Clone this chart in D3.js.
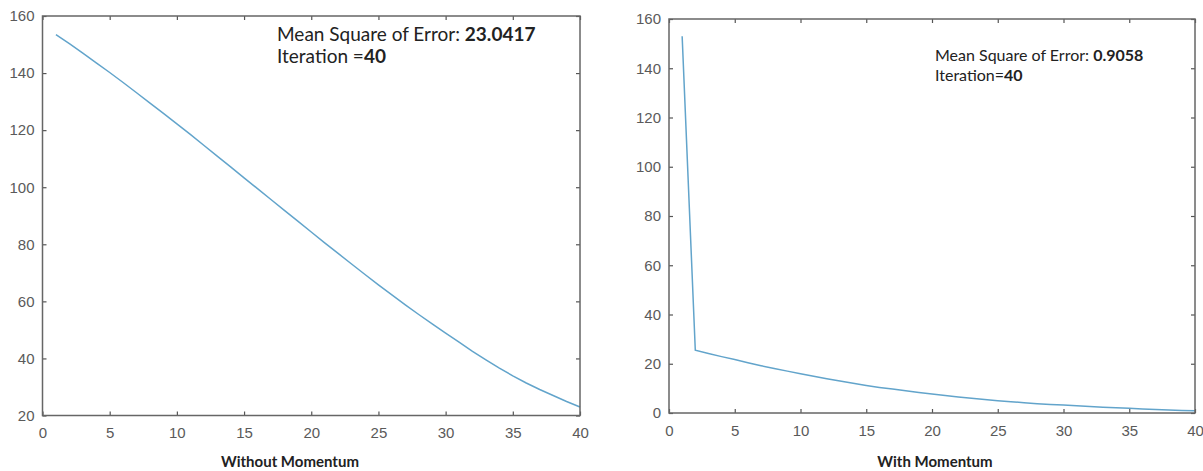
<!DOCTYPE html>
<html>
<head>
<meta charset="utf-8">
<script src="https://cdn.jsdelivr.net/npm/d3@7"></script>
<style>
  body { margin: 0; background: #fff; }
  svg text { fill: #4d4d4d; }
</style>
</head>
<body>
<script>
// iterations 1..40
var iterations = d3.range(1, 41);

// error without momentum
var errNoMomentum = [153.5, 150.3, 147.0, 143.6, 140.2, 136.7, 133.1, 129.5, 125.9, 122.2,
	118.5, 114.7, 110.9, 107.1, 103.3, 99.5, 95.7, 91.9, 88.1, 84.3,
	80.5, 76.8, 73.1, 69.4, 65.8, 62.3, 58.8, 55.4, 52.1, 48.9,
	45.7, 42.5, 39.5, 36.6, 33.9, 31.4, 29.1, 27.0, 24.9, 23.0];

// error with momentum
var errMomentum = [153, 25.5, 24.2, 22.9, 21.7, 20.4, 19.2, 18.1, 17.0, 15.9,
	14.9, 13.9, 13.0, 12.1, 11.2, 10.4, 9.7, 9.0, 8.3, 7.7,
	7.1, 6.5, 6.0, 5.5, 5.0, 4.6, 4.2, 3.8, 3.5, 3.2,
	2.9, 2.6, 2.3, 2.1, 1.9, 1.6, 1.4, 1.2, 1.0, 0.9];

var xTicks = [0, 5, 10, 15, 20, 25, 30, 35, 40];
var yTicksLeft = [20, 40, 60, 80, 100, 120, 140, 160];
var yTicksRight = [0, 20, 40, 60, 80, 100, 120, 140, 160];

var svg = d3.select("body").append("svg")
	.attr("width", 1203)
	.attr("height", 471);

// draw one matlab style panel
function drawPanel(p) {
	var x = d3.scaleLinear().domain([0, 40]).range([p.left, p.right]);
	var y = d3.scaleLinear().domain(p.yDomain).range([p.bottom, p.top]);
	var g = svg.append("g");

	var line = d3.line()
		.x(function(d, i) { return x(iterations[i]); })
		.y(function(d) { return y(d); });

	g.append("path")
		.datum(p.values)
		.attr("d", line)
		.attr("fill", "none")
		.attr("stroke", "#62a4cb")
		.attr("stroke-width", 1.5);

	var fontAxis = "Liberation Sans, Arial, sans-serif";

	var bottom = g.append("g")
		.attr("transform", "translate(0," + p.bottom + ")")
		.call(d3.axisBottom(x).tickValues(xTicks).tickSize(-4).tickPadding(12));
	var left = g.append("g")
		.attr("transform", "translate(" + p.left + ",0)")
		.call(d3.axisLeft(y).tickValues(p.yTicks).tickSize(-4).tickPadding(8));
	var top = g.append("g")
		.attr("transform", "translate(0," + p.top + ")")
		.call(d3.axisTop(x).tickValues(xTicks).tickSize(-4).tickFormat(""));
	var right = g.append("g")
		.attr("transform", "translate(" + p.right + ",0)")
		.call(d3.axisRight(y).tickValues(p.yTicks).tickSize(-4).tickFormat(""));

	[bottom, left, top, right].forEach(function(a) {
		a.select(".domain").remove();
		a.selectAll("line").attr("stroke", "#555").attr("stroke-width", 1.2);
		a.selectAll("text")
			.attr("font-family", fontAxis)
			.attr("font-size", 15)
			.style("fill", "#5a5a5a");
	});

	g.append("rect")
		.attr("x", p.left)
		.attr("y", p.top)
		.attr("width", p.right - p.left)
		.attr("height", p.bottom - p.top)
		.attr("fill", "none")
		.attr("stroke", "#666")
		.attr("stroke-width", 1.5);

	// annotation
	var note = g.append("text")
		.attr("font-family", "Lato, sans-serif")
		.attr("font-size", p.noteSize)
		.style("fill", "#222");
	note.append("tspan").attr("x", p.noteX).attr("y", p.noteY).text("Mean Square of Error: ");
	note.append("tspan").attr("font-weight", "bold").text(p.mse);
	var note2 = g.append("text")
		.attr("font-family", "Lato, sans-serif")
		.attr("font-size", p.noteSize)
		.style("fill", "#222");
	note2.append("tspan").attr("x", p.noteX).attr("y", p.noteY + p.noteGap).text(p.iterLabel);
	note2.append("tspan").attr("font-weight", "bold").text("40");

	// title under the chart
	g.append("text")
		.attr("x", p.titleX)
		.attr("y", 467)
		.attr("text-anchor", "middle")
		.attr("font-family", "Lato, sans-serif")
		.attr("font-weight", "bold")
		.attr("font-size", 15)
		.style("fill", "#222")
		.text(p.title);
}

drawPanel({
	left: 42.5, right: 580, top: 16, bottom: 415.5,
	yDomain: [20, 160], yTicks: yTicksLeft, values: errNoMomentum,
	noteX: 277, noteY: 41, noteGap: 22, noteSize: 19,
	mse: "23.0417", iterLabel: "Iteration =",
	title: "Without Momentum", titleX: 290
});

drawPanel({
	left: 669, right: 1195, top: 19, bottom: 413,
	yDomain: [0, 160], yTicks: yTicksRight, values: errMomentum,
	noteX: 935, noteY: 61, noteGap: 20, noteSize: 16,
	mse: "0.9058", iterLabel: "Iteration=",
	title: "With Momentum", titleX: 935
});
</script>
</body>
</html>
